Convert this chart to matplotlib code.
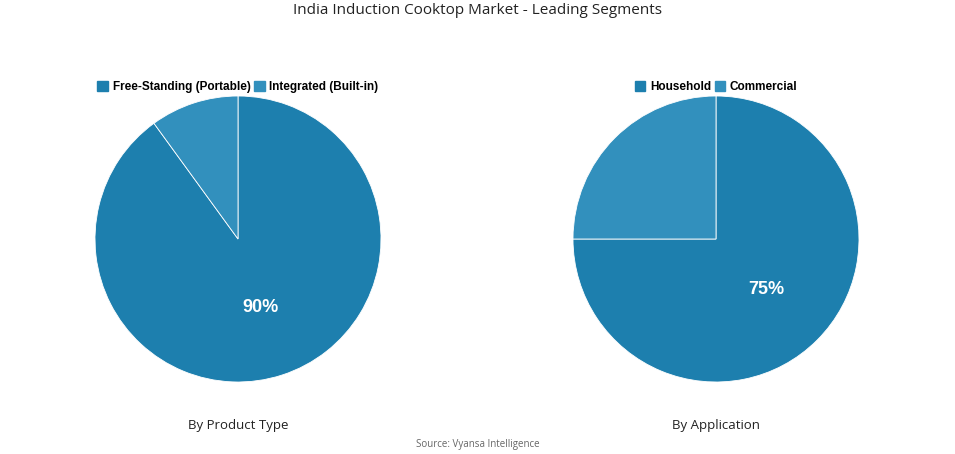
import matplotlib
matplotlib.use("Agg")
import matplotlib.pyplot as plt
from matplotlib.patches import Patch

plt.rcParams['font.family'] = ['Open Sans', 'DejaVu Sans']

prod_labels = ["Free-Standing (Portable)", "Integrated (Built-in)"]
prod_values = [90, 10]
app_labels = ["Household", "Commercial"]
app_values = [75, 25]
colors = ["#1d7fae", "#3290bd"]

fig = plt.figure(figsize=(9.55, 4.54), dpi=100)
W, H = 955, 454
R = 143

def draw(cx, cy, vals, labels, sub, legx):
    ax = fig.add_axes([(cx - R) / W, 1 - (cy + R) / H, 2 * R / W, 2 * R / H])
    wedges, texts, autot = ax.pie(vals, colors=colors, startangle=90, counterclock=False,
                                  autopct=lambda p: f"{p:.0f}%" if p > 50 else "",
                                  pctdistance=0.5,
                                  wedgeprops=dict(edgecolor="white", linewidth=0.6))
    for t in autot:
        t.set_color("white"); t.set_fontsize(13); t.set_fontweight("bold")
        t.set_family(["Liberation Sans", "DejaVu Sans"])
    ax.set_xlim(-1, 1); ax.set_ylim(-1, 1)
    ax.set_aspect("equal")
    handles = [Patch(color=c) for c in colors]
    fig.legend(handles, labels, loc="center", bbox_to_anchor=(legx / W, 1 - 87 / H),
               ncol=2, frameon=False, handlelength=0.9, handleheight=0.9,
               handletextpad=0.4, columnspacing=0.3,
               prop=dict(family=["Liberation Sans", "DejaVu Sans"], weight="bold", size=8.5))
    fig.text(cx / W, 1 - 425 / H, sub, ha="center", va="center", fontsize=9.5, color="#222222")

draw(238, 239, prod_values, prod_labels, "By Product Type", 238)
draw(716, 239, app_values, app_labels, "By Application", 716)

fig.text(0.5, 1 - 10 / H, "India Induction Cooktop Market - Leading Segments",
         ha="center", va="center", fontsize=11, color="#222222")
fig.text(0.5, 1 - 444 / H, "Source: Vyansa Intelligence", ha="center", va="center",
         fontsize=7, color="#666666")
fig.savefig("out.png", dpi=100)
